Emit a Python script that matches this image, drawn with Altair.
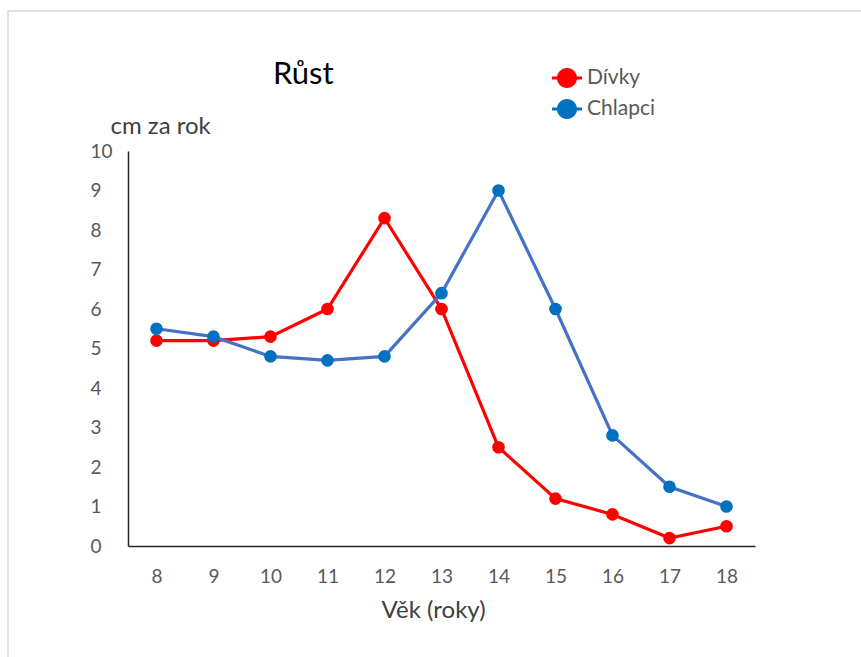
import altair as alt
import pandas as pd

ages = [8, 9, 10, 11, 12, 13, 14, 15, 16, 17, 18]
divky = [5.2, 5.2, 5.3, 6.0, 8.3, 6.0, 2.5, 1.2, 0.8, 0.2, 0.5]
chlapci = [5.5, 5.3, 4.8, 4.7, 4.8, 6.4, 9.0, 6.0, 2.8, 1.5, 1.0]
series = ["Dívky", "Chlapci"]
line_colors = ["#FF0000", "#4472C4"]
point_colors = ["#FF0000", "#0070C0"]
title_text = "Růst"

rows = []
for i, a in enumerate(ages):
    rows.append({"vek": a, "hodnota": divky[i], "serie": "Dívky"})
for i, a in enumerate(ages):
    rows.append({"vek": a, "hodnota": chlapci[i], "serie": "Chlapci"})
df = pd.DataFrame(rows)

FONT = "Lato"
W, H = 627, 395

x = alt.X("vek:O", sort=ages,
          scale=alt.Scale(type="point", padding=0.5),
          axis=alt.Axis(title="Věk (roky)", labelAngle=0, ticks=False, grid=False,
                        domainColor="#262626", domainWidth=1.5,
                        labelColor="#595959", labelFontSize=19, labelFont=FONT,
                        labelPadding=36, labelBaseline="alphabetic",
                        titleFont=FONT, titleFontSize=24, titleFontWeight="normal",
                        titleColor="#404040", titleX=305, titleY=71,
                        titleBaseline="alphabetic", titleAlign="center"))
y = alt.Y("hodnota:Q",
          scale=alt.Scale(domain=[0, 10], nice=False),
          axis=alt.Axis(title="cm za rok", values=list(range(0, 11)), ticks=False,
                        tickSize=0, grid=False,
                        domainColor="#262626", domainWidth=1.5,
                        labelColor="#595959", labelFontSize=19, labelFont=FONT,
                        labelAlign="left", labelPadding=38,
                        titleFont=FONT, titleFontSize=24, titleFontWeight="normal",
                        titleColor="#404040", titleAngle=0, titleX=-18, titleY=-18,
                        titleAlign="left", titleBaseline="alphabetic"))

legend_shape = ("M -1 -0.1 L 1 -0.1 L 1 0.1 L -1 0.1 Z "
                "M 0.67 0 A 0.67 0.67 0 1 1 -0.67 0 A 0.67 0.67 0 1 1 0.67 0 Z")

color_pt = alt.Color("serie:N", sort=series,
                     scale=alt.Scale(domain=series, range=point_colors),
                     legend=alt.Legend(title=None, orient="none", legendX=424, legendY=-88,
                                       symbolType=legend_shape, symbolSize=900,
                                       symbolStrokeWidth=0, symbolOpacity=1,
                                       labelFont=FONT, labelFontSize=21,
                                       labelColor="#595959", labelOffset=5,
                                       rowPadding=5, padding=0))

base = alt.Chart(df)
lines = []
points = []
for s, lc in zip(series, line_colors):
    sub = base.transform_filter(alt.datum.serie == s)
    lines.append(sub.mark_line(strokeWidth=3.2, color=lc).encode(x=x, y=y))
    points.append(sub.mark_point(filled=True, size=160, opacity=1).encode(
        x=x, y=y, color=color_pt))

ordered = [lines[0], points[0], lines[1], points[1]]

border = alt.Chart(pd.DataFrame({"b": [0]})).mark_rect(
    fill=None, stroke="#d9d9d9", strokeWidth=1.5).encode(
    x=alt.value(-120), x2=alt.value(760), y=alt.value(-140), y2=alt.value(530))

title = alt.Chart(pd.DataFrame({"t": [title_text]})).mark_text(
    font=FONT, fontSize=31, color="#000000", align="left", baseline="alphabetic").encode(
    text="t:N", x=alt.value(145), y=alt.value(-67))

chart = alt.layer(border, title, *ordered).properties(
    width=W, height=H,
    background="white",
    autosize=alt.AutoSizeParams(type="none"),
    padding={"left": 128, "top": 151, "right": 106, "bottom": 111},
).configure_view(strokeWidth=0, stroke="transparent")

chart.save("out.html", embed_options={"renderer": "svg", "actions": False})
